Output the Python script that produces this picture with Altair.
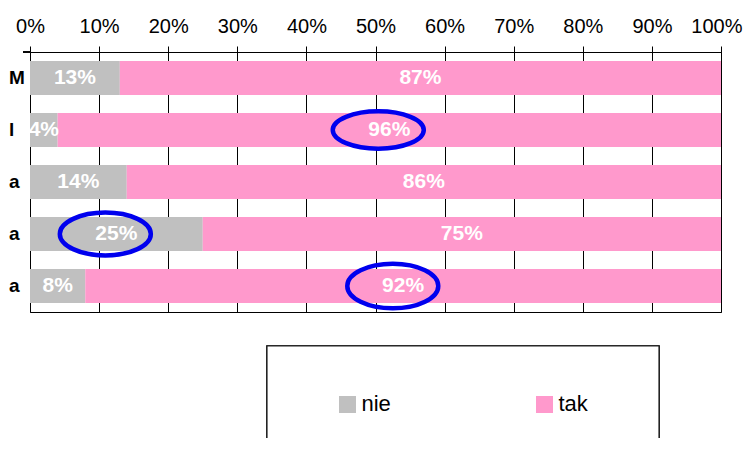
import altair as alt
import pandas as pd

# ---- data ----
row_labels = ["M", "l", "a", "a", "a"]          # visible (cut-off) category labels
nie = [13, 4, 14, 25, 8]
tak = [87, 96, 86, 75, 92]
series = ["nie", "tak"]
colors = ["#C0C0C0", "#FF99CC"]
tick_values = [0, 10, 20, 30, 40, 50, 60, 70, 80, 90, 100]

# highlighted labels (row index, x centre in %, ellipse height ratio)
hl_rows = [1, 3, 4]
hl_x = [50.4, 10.9, 52.5]
hl_ratio = [0.41, 0.47, 0.49]

# ---- build tables ----
recs = []
for i in range(len(row_labels)):
    start = 0
    for s, vals in zip(series, [nie, tak]):
        v = vals[i]
        recs.append({"row": i, "series": s, "start": start, "end": start + v,
                     "mid": start + v / 2, "label": f"{v}%"})
        start += v
bars_df = pd.DataFrame(recs)
rows_df = pd.DataFrame({"row": list(range(len(row_labels))), "name": row_labels})


def ellipse_path(r):
    return f"M-1,0 A1,{r} 0 1,1 1,0 A1,{r} 0 1,1 -1,0 Z"


hl_df = pd.DataFrame({"row": hl_rows, "x": hl_x,
                      "shape": [ellipse_path(r) for r in hl_ratio]})

xscale = alt.Scale(domain=[0, 100], nice=False, zero=True)
yscale = alt.Scale(paddingInner=0.346, paddingOuter=0.173)
FONT = "Liberation Sans"

base = alt.Chart(bars_df)

bars = base.mark_bar().encode(
    x=alt.X("start:Q", scale=xscale, title=None,
            axis=alt.Axis(orient="top", values=tick_values,
                          labelExpr="datum.value + '%'",
                          labelOverlap=False, labelFlush=False,
                          labelAlign={"expr": "datum.value == 100 ? 'right' : 'center'"},
                          labelOffset={"expr": "datum.value == 100 ? 21 : 0"},
                          tickSize=6, labelPadding=10, labelFontSize=20,
                          labelFont=FONT, labelColor="black",
                          domainColor="black", tickColor="black",
                          grid=True, gridColor="black", gridWidth=1)),
    x2="end:Q",
    y=alt.Y("row:O", scale=yscale, axis=None),
    color=alt.Color("series:N", scale=alt.Scale(domain=series, range=colors),
                    legend=None),
)

values = base.mark_text(color="white", fontWeight="bold", fontSize=21,
                        font=FONT, baseline="middle").encode(
    x=alt.X("mid:Q", scale=xscale),
    y=alt.Y("row:O", scale=yscale),
    text="label:N",
)

cat_labels = alt.Chart(rows_df).mark_text(
    align="left", baseline="middle", fontWeight="bold", fontSize=19,
    font=FONT, color="black").encode(
    x=alt.value(-21),
    y=alt.Y("row:O", scale=yscale),
    text="name:N",
)

ellipses = alt.Chart(hl_df).mark_point(
    filled=False, stroke="#0000EE", strokeWidth=4.5, opacity=1, size=8281
).encode(
    x=alt.X("x:Q", scale=xscale),
    y=alt.Y("row:O", scale=yscale),
    shape=alt.Shape("shape:N", scale=None),
)

corner_tick = alt.Chart(rows_df).mark_rule(color="black").encode(
    x=alt.value(-7), x2=alt.value(0), y=alt.value(0)
)

legend_box = alt.Chart(rows_df).mark_rect(
    fill="white", stroke="#222222", strokeWidth=1.2
).encode(x=alt.value(237), x2=alt.value(629), y=alt.value(294), y2=alt.value(430))

legend_layers = []
sym_x = [317.5, 514.5]
for s, c, sx in zip(series, colors, sym_x):
    d = pd.DataFrame({"series": [s]})
    legend_layers.append(
        alt.Chart(d).mark_square(size=289, color=c, opacity=1).encode(
            x=alt.value(sx), y=alt.value(352.5)))
    legend_layers.append(
        alt.Chart(d).mark_text(align="left", baseline="middle", fontSize=22,
                               font=FONT, color="black").encode(
            x=alt.value(sx + 14), y=alt.value(352), text="series:N"))

chart = alt.layer(
    bars, values, cat_labels, ellipses, corner_tick, legend_box, *legend_layers
).properties(
    width=691, height=260,
    padding={"left": 22, "top": 44, "right": 22, "bottom": 126},
    autosize=alt.AutoSizeParams(type="none"),
).configure_view(stroke="black", strokeWidth=1)

chart.save("out.html", embed_options={"renderer": "svg", "actions": False})
